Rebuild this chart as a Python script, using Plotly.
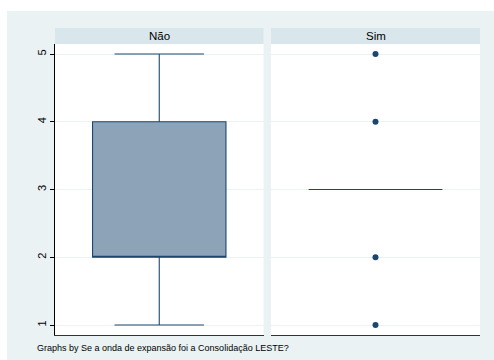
import plotly.graph_objects as go

# Box summaries per group of "Se a onda de expansão foi a Consolidação LESTE?"
groups = ["Não", "Sim"]
q1 = [2, 3]
median = [2, 3]
q3 = [4, 3]
lower_fence = [1, 3]
upper_fence = [5, 3]
# Outside values (only the "Sim" group has them)
sim_outliers = [1, 2, 4, 5]
y_ticks = [1, 2, 3, 4, 5]

W, H = 494, 360
ML, MR, MT, MB = 55, 14, 44, 25
PW = W - ML - MR
PH = H - MT - MB

NAVY = "#1A476F"
FILL = "#8CA3B8"
REGION = "#EAF2F3"
STRIP = "#D9E6EB"
GRID = "#EAF2F3"

fig = go.Figure()

axis_names = [("x", "y"), ("x2", "y2")]
for i, g in enumerate(groups):
    xa, ya = axis_names[i]
    fig.add_trace(go.Box(
        x=[0.5], q1=[q1[i]], median=[median[i]], q3=[q3[i]],
        lowerfence=[lower_fence[i]], upperfence=[upper_fence[i]],
        width=0.64, whiskerwidth=0.67, boxpoints=False,
        fillcolor=FILL, line=dict(color=NAVY, width=1.1),
        xaxis=xa, yaxis=ya, showlegend=False, name=g,
    ))

fig.add_trace(go.Scatter(
    x=[0.5] * len(sim_outliers), y=sim_outliers, mode="markers",
    marker=dict(color=NAVY, size=6), xaxis="x2", yaxis="y2",
    showlegend=False,
))

yrange = [0.8524, 5.1476]
common_x = dict(range=[0, 1], showticklabels=False, ticks="", showgrid=False,
                zeroline=False, showline=True, linecolor="#333333", linewidth=1.2)
fig.update_layout(
    width=W, height=H,
    margin=dict(l=ML, r=MR, t=MT, b=MB),
    paper_bgcolor=REGION, plot_bgcolor="white",
    font=dict(family="Liberation Sans, Arial, sans-serif", color="black"),
    xaxis=dict(domain=[0, 208.5 / PW], anchor="y", **common_x),
    xaxis2=dict(domain=[216 / PW, 1], anchor="y2", **common_x),
    yaxis=dict(domain=[0, 1], anchor="x", range=yrange, tickvals=y_ticks,
               ticktext=[str(v) for v in y_ticks], tickangle=-90,
               ticks="outside", ticklen=4, tickcolor="black",
               tickfont=dict(size=11), showline=True, linecolor="black",
               linewidth=1, showgrid=True, gridcolor=GRID, gridwidth=1,
               zeroline=False),
    yaxis2=dict(domain=[0, 1], anchor="x2", matches="y", range=yrange,
                tickvals=y_ticks, showticklabels=False, ticks="",
                showline=False, showgrid=True, gridcolor=GRID, gridwidth=1,
                zeroline=False),
)

shapes = [
    # white outer margin on the left and top
    dict(type="rect", xref="paper", yref="paper", x0=-ML / PW, x1=(7 - ML) / PW,
         y0=-MB / PH, y1=1 + MT / PH, fillcolor="white", line_width=0, layer="below"),
    dict(type="rect", xref="paper", yref="paper", x0=-ML / PW, x1=1 + MR / PW,
         y0=(H - MB - 11) / PH, y1=1 + MT / PH, fillcolor="white", line_width=0,
         layer="below"),
]
annotations = []
for i, g in enumerate(groups):
    xa = axis_names[i][0]
    shapes.append(dict(type="rect", xref=f"{xa} domain", yref="paper",
                       x0=0, x1=1, y0=1, y1=1 + 16 / PH,
                       fillcolor=STRIP, line_width=0, layer="below"))
    annotations.append(dict(text=g, xref=f"{xa} domain", yref="paper",
                            x=0.5, y=1 + 8 / PH, xanchor="center", yanchor="middle",
                            showarrow=False, font=dict(size=11.5)))

annotations.append(dict(
    text="Graphs by Se a onda de expansão foi a Consolidação LESTE?",
    xref="paper", yref="paper", x=(35 - ML) / PW, y=-13 / PH,
    xanchor="left", yanchor="middle", showarrow=False, font=dict(size=9)))

fig.update_layout(shapes=shapes, annotations=annotations)
fig.write_html("out.html")
